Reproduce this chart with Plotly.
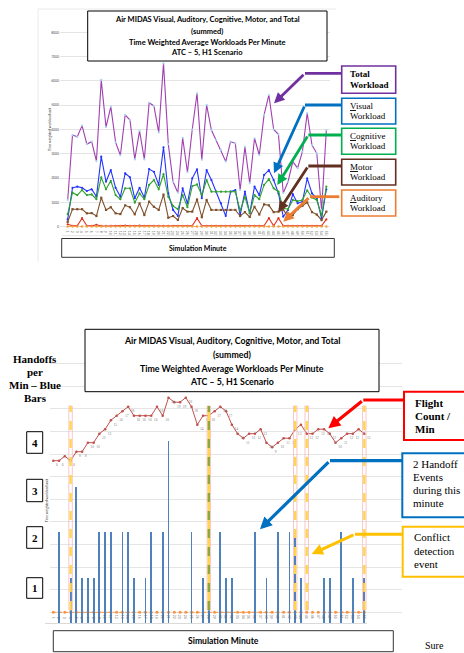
import plotly.graph_objects as go

W, H = 464, 653


def px(x):
    return x / W


def py(y):
    return 1 - y / H


# ---------------- DATA ----------------
minutes = list(range(1, 56))
minute_labels = [str(m) for m in minutes]

# Top chart: time weighted average workloads per minute
total_workload = [1100, 3770, 3700, 4160, 3400, 3500, 2700, 6040, 4100, 4940,
                  3470, 2940, 4600, 4390, 2770, 3940, 2770, 5100, 4970, 3880,
                  6720, 3400, 1850, 1400, 3660, 2240, 4000, 5490, 2750, 5010,
                  3980, 3570, 3160, 2680, 3500, 3430, 1510, 3290, 1790, 3640,
                  2950, 4600, 5420, 4000, 3800, 1390, 1850, 2680, 2410, 3090,
                  4670, 3360, 3020, 690, 3980]
visual_workload = [300, 1600, 1650, 1600, 1470, 1540, 1240, 2880, 1850, 2330,
                   1600, 1230, 2200, 2030, 1170, 1600, 1200, 2370, 2260, 1720,
                   3270, 1370, 690, 440, 1580, 960, 1990, 2360, 1170, 2330,
                   1920, 1440, 960, 440, 1440, 1510, 480, 1440, 550, 1650,
                   1300, 2130, 2330, 1920, 1370, 410, 690, 1340, 960, 1030,
                   1990, 1370, 1170, 340, 1540]
cognitive_workload = [520, 1400, 1300, 1510, 1300, 1330, 1130, 2030, 1540, 1890,
                      1300, 1130, 1580, 1580, 990, 1370, 1130, 1720, 1920, 1540,
                      2160, 1230, 850, 720, 1300, 800, 1670, 1740, 1300, 1920,
                      1440, 1440, 1440, 1440, 1440, 1440, 660, 1230, 560, 1300,
                      1130, 1720, 1960, 1580, 1440, 760, 720, 1100, 1050, 1100,
                      1500, 1200, 1100, 450, 1650]
motor_workload = [200, 720, 720, 720, 550, 560, 440, 1190, 690, 800,
                  550, 520, 880, 800, 510, 960, 480, 1030, 820, 690,
                  1320, 370, 440, 280, 765, 620, 620, 1120, 390, 1100,
                  690, 690, 690, 690, 690, 690, 440, 600, 400, 820,
                  500, 920, 880, 600, 620, 700, 410, 480, 720, 860,
                  1000, 600, 500, 270, 620]
red_series = [100, 40, 40, 350, 40, 40, 80, 30, 30, 40,
              30, 30, 50, 40, 30, 50, 40, 40, 30, 40,
              40, 30, 40, 30, 40, 40, 40, 350, 40, 40,
              30, 30, 30, 30, 30, 30, 40, 40, 30, 40,
              40, 40, 350, 40, 350, 40, 40, 40, 40, 40,
              40, 40, 30, 40, 300]
auditory_workload = [10, 10, 10, 10, 10, 10, 10, 10, 10, 10,
                     10, 10, 10, 10, 10, 10, 10, 10, 10, 10,
                     10, 10, 10, 10, 10, 10, 10, 10, 10, 10,
                     10, 10, 10, 10, 10, 10, 10, 10, 10, 10,
                     10, 10, 10, 10, 10, 10, 10, 10, 10, 10,
                     10, 10, 10, 10, 10]
top_yticks = [0, 1000, 2000, 3000, 4000, 5000, 6000, 7000, 8000]

# Bottom chart
handoffs = [0, 2, 0, 1, 3, 1, 1, 1, 2, 2,
            2, 0, 2, 2, 1, 0, 1, 2, 0, 2,
            4, 0, 0, 0, 2, 0, 1, 2, 0, 2,
            1, 1, 0, 0, 0, 2, 0, 1, 0, 2,
            0, 2, 2, 1, 0, 0, 0, 1, 1, 0,
            2, 0, 1, 0, 1]
flight_count = [6, 6, 7, 6, 8, 8, 10, 10, 12, 13,
                15, 16, 17, 18, 16, 16, 16, 16, 18, 16,
                20, 19, 19, 20, 18, 14, 16, 16, 17, 18,
                17, 14, 12, 11, 12, 12, 13, 10, 9, 10,
                11, 11, 13, 14, 12, 12, 13, 13, 12, 10,
                11, 12, 12, 13, 12]
bottom_auditory = [0, 0, 0, 0, 0, 0, 0, 0, 0, 0,
                   0, 0, 0, 0, 0, 0, 0, 0, 0, 0,
                   0, 0, 0, 0, 0, 0, 0, 0, 0, 0,
                   0, 0, 0, 0, 0, 0, 0, 0, 0, 0,
                   0, 0, 0, 0, 0, 0, 0, 0, 0, 0,
                   0, 0, 0, 0, 0]
conflict_minutes = [4, 28, 43, 45, 55]
green_conflict_minutes = [28]

title_lines = ["Air MIDAS Visual, Auditory, Cognitive, Motor, and Total",
               "(summed)",
               "Time Weighted Average Workloads Per Minute",
               "ATC \u2013 5, H1 Scenario"]

# ---------------- LAYOUT GEOMETRY ----------------
# top chart
T_X0, T_X1 = 60, 330
T_M1, T_STEP = 67.7, 4.79
T_Y0, T_Y1 = 228, 30
T_ZERO, T_PPU = 226.7, 24.3 / 1000
# bottom chart
B_X0, B_X1 = 50, 402
B_M1, B_STEP = 53.3, 5.76
B_Y0, B_Y1 = 624, 355
GRID_ZERO, GRID_PPU = 612.3, 22.6
BAR_ZERO, BAR_PPU = 623, 45.5
FC_REF_Y, FC_REF_V, FC_PPU = 460.7, 6, 4.5

SERIF = "Liberation Serif"
SANS = "Lato"

fig = go.Figure()

# ---- top chart traces ----
def top_line(y, color, mcolor=None, dash="solid", msym="circle", msize=2.2, width=1.1):
    fig.add_trace(go.Scatter(
        x=minutes, y=y, mode="lines+markers", xaxis="x", yaxis="y",
        line=dict(color=color, width=width, dash=dash),
        marker=dict(color=mcolor or color, size=msize, symbol=msym),
        showlegend=False, hoverinfo="skip"))

top_line(total_workload, "#A040B0", mcolor="#A9D3F0")
top_line(visual_workload, "#2233FF")
top_line(cognitive_workload, "#2EA12E")
top_line(motor_workload, "#7F4F2A", msym="square")
top_line(red_series, "#E0301E")
top_line(auditory_workload, "#F5A040", dash="dot", msize=2.5)

# ---- bottom chart traces ----
fig.add_trace(go.Scatter(
    x=minutes, y=bottom_auditory, mode="lines+markers", xaxis="x2", yaxis="y2",
    line=dict(color="#F79646", width=1, dash="dot"),
    marker=dict(color="#F79646", size=3),
    showlegend=False, hoverinfo="skip"))
fig.add_trace(go.Bar(
    x=minutes, y=handoffs, xaxis="x2", yaxis="y3", width=0.32,
    marker=dict(color="#4F81BD", line=dict(width=0)),
    showlegend=False, hoverinfo="skip"))
fig.add_trace(go.Scatter(
    x=minutes, y=flight_count, mode="lines+markers+text", xaxis="x2", yaxis="y4",
    text=[str(v) for v in flight_count], textposition="bottom right",
    textfont=dict(size=3.6, color="#808080", family=SERIF),
    line=dict(color="#C0504D", width=1),
    marker=dict(color="#C0504D", size=2.6),
    showlegend=False, hoverinfo="skip"))

shapes = []
annotations = []


def rect(x0, y0, x1, y1, color, width=1.0, fill="rgba(0,0,0,0)"):
    shapes.append(dict(type="rect", xref="paper", yref="paper",
                       x0=px(x0), x1=px(x1), y0=py(y1), y1=py(y0),
                       line=dict(color=color, width=width), fillcolor=fill,
                       layer="above"))


def seg(x0, y0, x1, y1, color, width=3.0):
    shapes.append(dict(type="line", xref="paper", yref="paper",
                       x0=px(x0), x1=px(x1), y0=py(y0), y1=py(y1),
                       line=dict(color=color, width=width), layer="above"))


def arrow(tail, bend, tip, color, width=3.0):
    seg(tail[0], tail[1], bend[0], bend[1], color, width)
    annotations.append(dict(x=px(tip[0]), y=py(tip[1]), xref="paper", yref="paper",
                            ax=bend[0] - tip[0], ay=bend[1] - tip[1],
                            showarrow=True, arrowhead=2, arrowsize=0.75,
                            arrowwidth=width, arrowcolor=color, text="",
                            standoff=0))


def text(s, x, y, size, family=SERIF, xanchor="left", color="black", angle=0):
    annotations.append(dict(x=px(x), y=py(y), xref="paper", yref="paper",
                            text=s, showarrow=False, xanchor=xanchor,
                            yanchor="middle", textangle=angle,
                            font=dict(size=size, family=family, color=color)))


# ---- top chart decorations ----
seg(38, 9, 38, 262, "#E4E4E4", 0.8)
seg(38, 9, 336, 9, "#E4E4E4", 0.8)
seg(62, 235.7, 328, 235.7, "#D9D9D9", 0.8)

rect(87.7, 11, 327, 61, "black", 1.0, fill="white")
for line, yy in zip(title_lines, [19.3, 31.2, 42.5, 52.7]):
    text("<b>%s</b>" % line, 207, yy, 7.5, family=SANS, xanchor="center")

rect(61.7, 238.5, 334.3, 257.3, "#333333", 1.0, fill="white")
text("<b>Simulation Minute</b>", 198, 248, 7.0, family=SANS, xanchor="center")
text("Time weighted workload unit", 50, 129, 3.4, family=SANS, angle=-90,
     xanchor="center", color="#404040")

label_boxes = [
    (["<b>Total</b>", "<b>Workload</b>"], 66, 93.3, "#7030A0",
     (341.7, 73.3), (305, 73.3), (274, 103.3)),
    (["<u>V</u>isual", "Workload"], 98.3, 124, "#0070C0",
     (341.7, 105), (305, 105), (274, 173.3)),
    (["<u>C</u>ognitive", "Workload"], 128.3, 154.3, "#00B050",
     (341.7, 135), (308.3, 135), (277.3, 185)),
    (["<u>M</u>otor", "Workload"], 159.3, 185, "#622F21",
     (341.7, 166), (308.3, 166), (278.3, 211.7)),
    (["<u>A</u>uditory", "Workload"], 190, 216, "#ED7D31",
     (339.3, 196.7), (310, 196.7), (283.3, 221.7)),
]
for lines, y0, y1, col, tail, bend, tip in label_boxes:
    rect(341.7, y0, 395.7, y1, col, 1.6)
    mid = (y0 + y1) / 2
    text(lines[0], 348.3, mid - 5.2, 9)
    text(lines[1], 348.3, mid + 5.2, 9)
    arrow(tail, bend, tip, col, 2.8)

# ---- bottom chart decorations ----
for m in conflict_minutes:
    shapes.append(dict(type="rect", xref="x2", yref="paper",
                       x0=m - 0.3, x1=m + 0.3, y0=py(610), y1=py(406),
                       line=dict(color="#F7B9B5", width=0.8),
                       fillcolor="rgba(0,0,0,0)", layer="above"))
    shapes.append(dict(type="line", xref="x2", yref="paper",
                       x0=m, x1=m, y0=py(610), y1=py(406),
                       line=dict(color="#FFD54F", width=2.4,
                                 dash="solid" if m in green_conflict_minutes else "dash"),
                       layer="above"))
    if m in green_conflict_minutes:
        shapes.append(dict(type="line", xref="x2", yref="paper",
                           x0=m, x1=m, y0=py(610), y1=py(406),
                           line=dict(color="#8FA83A", width=2.4, dash="dash"),
                           layer="above"))

# x axis base line
shapes.append(dict(type="line", xref="paper", yref="paper",
                   x0=px(45), x1=px(367), y0=py(623.5), y1=py(623.5),
                   line=dict(color="#D0D0D0", width=0.8), layer="below"))

rect(85, 329.3, 379, 391.7, "black", 1.0, fill="white")
for line, yy in zip(title_lines, [340.7, 354.3, 368.3, 381.7]):
    text("<b>%s</b>" % line, 232, yy, 8.8, family=SANS, xanchor="center")

rect(53.3, 630.7, 393.3, 651.7, "#333333", 1.0, fill="white")
text("<b>Simulation Minute</b>", 223.3, 641.3, 8.6, family=SANS, xanchor="center")
text("Time weighted workload unit", 47.3, 500, 3.4, family=SANS, angle=-90,
     xanchor="center", color="#404040")

for line, yy in zip(["Handoffs", "per", "Min \u2013 Blue", "Bars"],
                    [359, 372.2, 385.3, 398.3]):
    text("<b>%s</b>" % line, 35, yy, 11, xanchor="center")

for lab, y0, y1 in [("4", 431.7, 453.3), ("3", 479.3, 501.7),
                    ("2", 526.7, 548.3), ("1", 577.7, 598.3)]:
    rect(26.7, y0, 42.7, y1, "black", 1.0)
    text("<b>%s</b>" % lab, 34.7, (y0 + y1) / 2, 11, xanchor="center")

rect(404, 391.7, 470, 440, "#FF0000", 2.0)
for line, yy in zip(["Flight", "Count /", "Min"], [403.3, 416.2, 429]):
    text("<b>%s</b>" % line, 412.7, yy, 11)
arrow((404, 400), (363.3, 400), (328.3, 428.3), "#FF0000", 3.2)

rect(402.3, 453.3, 470, 517.3, "#0070C0", 2.0)
for line, yy in zip(["2 Handoff", "Events", "during this", "minute"],
                    [464, 476.7, 489.5, 502.7]):
    text(line, 410.7, yy, 11)
arrow((402.3, 460.7), (330, 460.7), (260, 529.3), "#0070C0", 3.2)

rect(402.7, 526.7, 470, 576.7, "#FFC000", 2.0)
for line, yy in zip(["Conflict", "detection", "event"], [537.3, 550.7, 564]):
    text(line, 411.7, yy, 11)
arrow((402.7, 534.3), (355, 534.3), (311.7, 554), "#FFC000", 3.0)

text("Sure", 423, 645.5, 10)

# ---------------- AXES ----------------
fig.update_layout(
    width=W, height=H, margin=dict(l=0, r=0, t=0, b=0),
    paper_bgcolor="white", plot_bgcolor="rgba(0,0,0,0)",
    showlegend=False, bargap=0,
    shapes=shapes, annotations=annotations,
    xaxis=dict(domain=[px(T_X0), px(T_X1)], anchor="y",
               range=[1 - (T_M1 - T_X0) / T_STEP, 1 + (T_X1 - T_M1) / T_STEP],
               tickmode="array", tickvals=minutes, ticktext=minute_labels,
               tickfont=dict(size=3.4, color="#505050", family=SANS),
               showgrid=False, zeroline=False, showline=False, ticks=""),
    yaxis=dict(domain=[py(T_Y0), py(T_Y1)], anchor="x",
               range=[-(T_Y0 - T_ZERO) / T_PPU, (T_ZERO - T_Y1) / T_PPU],
               tickmode="array", tickvals=top_yticks,
               tickfont=dict(size=3.4, color="#505050", family=SANS),
               showgrid=True, gridcolor="#D9D9D9", gridwidth=0.7,
               zeroline=False, showline=False, ticks=""),
    xaxis2=dict(domain=[px(B_X0), px(B_X1)], anchor="y2",
                range=[1 - (B_M1 - B_X0) / B_STEP, 1 + (B_X1 - B_M1) / B_STEP],
                tickmode="array", tickvals=minutes, ticktext=minute_labels,
                ticklabelposition="inside",
                tickfont=dict(size=3.4, color="#606060", family=SANS),
                showgrid=False, zeroline=False, showline=False, ticks=""),
    yaxis2=dict(domain=[py(B_Y0), py(B_Y1)], anchor="x2",
                range=[(GRID_ZERO - B_Y0) / GRID_PPU, (GRID_ZERO - B_Y1) / GRID_PPU],
                dtick=1, tick0=0, showticklabels=False,
                showgrid=True, gridcolor="#DADADA", gridwidth=0.7,
                zeroline=False, showline=False, ticks=""),
    yaxis3=dict(overlaying="y2", anchor="x2",
                range=[(BAR_ZERO - B_Y0) / BAR_PPU, (BAR_ZERO - B_Y1) / BAR_PPU],
                showticklabels=False, showgrid=False, zeroline=False,
                showline=False, ticks=""),
    yaxis4=dict(overlaying="y2", anchor="x2",
                range=[FC_REF_V + (FC_REF_Y - B_Y0) / FC_PPU,
                       FC_REF_V + (FC_REF_Y - B_Y1) / FC_PPU],
                showticklabels=False, showgrid=False, zeroline=False,
                showline=False, ticks=""),
)

fig.write_html("out.html",
               config={"displayModeBar": False, "staticPlot": True},
               post_script="document.body.style.margin='0px';"
                           "document.body.style.overflow='hidden';")
